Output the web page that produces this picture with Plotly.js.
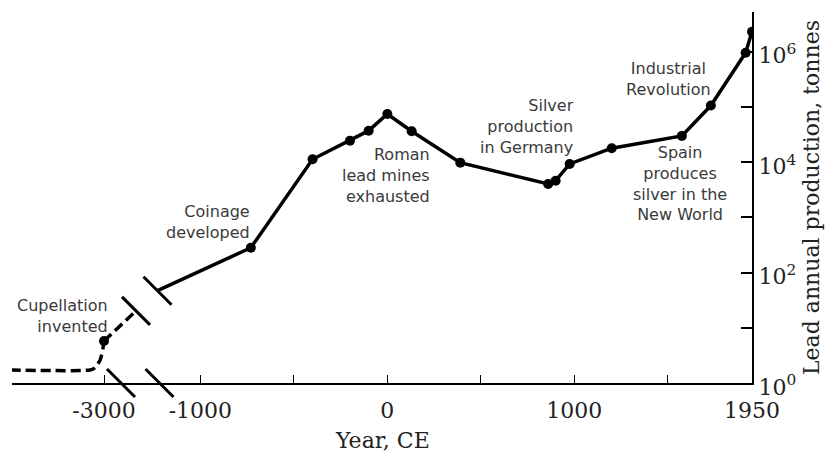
<!DOCTYPE html>
<html><head><meta charset="utf-8">
<script src="https://cdn.plot.ly/plotly-3.0.1.min.js"></script>
<style>html,body{margin:0;padding:0;background:#fff}#chart{width:830px;height:453px}</style>
</head><body><div id="chart"></div>
<script>
// ---- data ----
const earlyYears  = [-3500, -3075, -3050, -3021, -3006, -3000];
const earlyTonnes = [1.72, 1.72, 1.87, 2.6, 4.2, 5.77];
const cupelYears  = [-3000, -2829];
const cupelTonnes = [5.77, 20.2];
const mainYears   = [-1229, -730, -400, -200, -100, 0, 130, 390, 860, 900, 975, 1200, 1575, 1730, 1916, 1950];
const mainTonnes  = [47, 282, 11300, 24500, 37200, 74700, 36300, 9800, 4030, 4620, 9270, 17900, 29900, 106000, 957000, 2310000];
const earlyTickVals = [-3000];
const earlyTickText = ['-3000'];
const mainTickVals = [-1000, 0, 1000, 1950];
const mainTickText = ['-1000', '0', '1000', '1950'];
const mainMinorVals = [-500, 500, 1500];
const yTickVals = [1, 100, 10000, 1000000];
const yTickText = ['10<sup>0</sup>', '10<sup>2</sup>', '10<sup>4</sup>', '10<sup>6</sup>'];
const yMinorVals = [10, 1000, 100000];

// ---- layout geometry ----
const W = 830, H = 453, M = {l: 12, r: 78, t: 12, b: 70};
const plotW = W - M.l - M.r;
const pxPerYear = 0.187;
const breakPx = 134;                  // split of the two x segments (from plot left)
const d = breakPx / plotW;
const mainRange = [1950 - (plotW - breakPx) / pxPerYear, 1950];
const earlyLeft = -3000 - 92 / pxPerYear;
const earlyRange = [earlyLeft, earlyLeft + breakPx / pxPerYear];
const yRange = [0, 6.72];

function px2(year, dom, rng) { return dom[0] + (year - rng[0]) / (rng[1] - rng[0]) * (dom[1] - dom[0]); }
function py(v) { return (Math.log10(v) - yRange[0]) / (yRange[1] - yRange[0]); }

const serif = 'DejaVu Serif, serif';
const sans = 'DejaVu Sans, sans-serif';
const lineStyle = {color: '#000', width: 3.5};
const dot = {color: '#000', line: {color: '#000', width: 0}, opacity: 1};

const traces = [
  {x: earlyYears, y: earlyTonnes, xaxis: 'x2', yaxis: 'y', mode: 'lines',
   line: Object.assign({dash: '10px,5px', shape: 'spline', smoothing: 0.6}, lineStyle), hoverinfo: 'skip'},
  {x: cupelYears, y: cupelTonnes, xaxis: 'x2', yaxis: 'y', mode: 'lines+markers',
   line: Object.assign({dash: '10px,5px'}, lineStyle),
   marker: Object.assign({size: cupelYears.map((v, i) => i === 0 ? 10 : 0)}, dot), hoverinfo: 'skip'},
  {x: mainYears, y: mainTonnes, xaxis: 'x', yaxis: 'y', mode: 'lines+markers',
   line: lineStyle,
   marker: Object.assign({size: mainYears.map((v, i) => i === 0 ? 0 : 10)}, dot), hoverinfo: 'skip'}
];

function breakMark(xp, yp) {
  return {type: 'line', xref: 'paper', yref: 'paper', xsizemode: 'pixel', ysizemode: 'pixel',
    xanchor: xp, yanchor: yp, x0: -14, x1: 14, y0: 14, y1: -14,
    line: {color: '#000', width: 3}};
}
const axisY = 0;
const shapes = [
  breakMark(px2(cupelYears[1], [0, d], earlyRange), py(cupelTonnes[1])),
  breakMark(px2(mainYears[0], [d, 1], mainRange), py(mainTonnes[0])),
  breakMark((121 - M.l) / plotW, axisY),
  breakMark((159.5 - M.l) / plotW, axisY)
];

const annFont = {family: sans, size: 16, color: '#3a3a3a'};
function note(text, x, y, xref, xanchor, align) {
  return {text: text, x: x, y: Math.log10(y), xref: xref, yref: 'y', xanchor: xanchor, yanchor: 'middle',
    align: align, showarrow: false, font: annFont};
}
const annotations = [
  note('Cupellation<br>invented', -2968, 16.7, 'x2', 'right', 'right'),
  note('Coinage<br>developed', -723, 809, 'x', 'right', 'right'),
  note('Roman<br>lead mines<br>exhausted', 239, 5620, 'x', 'right', 'right'),
  note('Silver<br>production<br>in Germany', 1008, 43400, 'x', 'right', 'right'),
  note('Industrial<br>Revolution', 1506, 315000, 'x', 'center', 'center'),
  note('Spain<br>produces<br>silver in the<br>New World', 1565, 4030, 'x', 'center', 'center'),
  {text: 'Year, CE', xref: 'paper', yref: 'paper', x: (382 - M.l) / plotW, y: (383 - 440) / (H - M.t - M.b),
   xanchor: 'center', yanchor: 'middle', showarrow: false, font: {family: serif, size: 22, color: '#222'}}
];

const xCommon = {showline: true, linecolor: '#000', linewidth: 2, ticks: 'inside', ticklen: 8, tickwidth: 1,
  tickcolor: '#000', showgrid: false, zeroline: false, tickmode: 'array',
  tickfont: {family: serif, size: 22, color: '#222'}, ticklabelstandoff: 7, fixedrange: true};

const layout = {
  width: W, height: H, margin: M, paper_bgcolor: '#fff', plot_bgcolor: '#fff', showlegend: false,
  xaxis: Object.assign({}, xCommon, {domain: [d, 1], range: mainRange, tickvals: mainTickVals, ticktext: mainTickText, anchor: 'y',
    minor: {tickmode: 'array', tickvals: mainMinorVals, ticks: 'inside', ticklen: 8, tickwidth: 1, tickcolor: '#000', showgrid: false}}),
  xaxis2: Object.assign({}, xCommon, {domain: [0, d], range: earlyRange, tickvals: earlyTickVals, ticktext: earlyTickText, anchor: 'y'}),
  yaxis: {type: 'log', range: yRange, side: 'right', anchor: 'x', showline: true, linecolor: '#000', linewidth: 2,
    ticks: 'inside', ticklen: 11, tickwidth: 2, tickcolor: '#000', showgrid: false, zeroline: false,
    tickmode: 'array', tickvals: yTickVals, ticktext: yTickText, ticklabelshift: 4,
    minor: {tickmode: 'array', tickvals: yMinorVals, ticks: 'inside', ticklen: 11, tickwidth: 2, tickcolor: '#000', showgrid: false},
    tickfont: {family: serif, size: 22, color: '#222'},
    title: {text: 'Lead annual production, tonnes', font: {family: serif, size: 22, color: '#222'}, standoff: 8}},
  shapes: shapes, annotations: annotations
};

Plotly.newPlot('chart', traces, layout, {staticPlot: true, displayModeBar: false});
</script></body></html>
